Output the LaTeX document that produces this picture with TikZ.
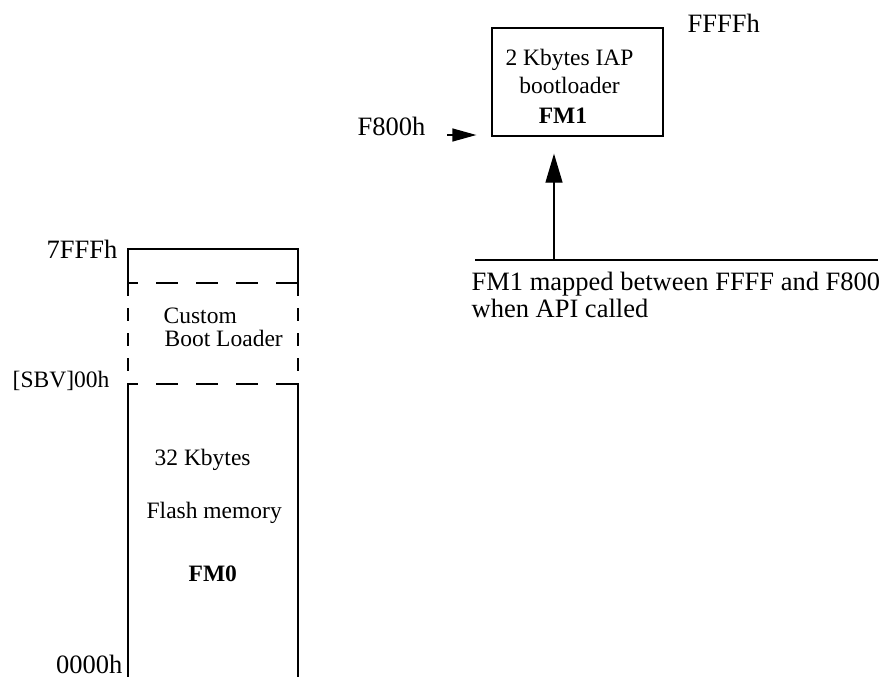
\documentclass[tikz,border=0pt]{standalone}
\usepackage{fontspec}
\setmainfont{Liberation Serif}
\usetikzlibrary{arrows.meta}
\begin{document}
\begin{tikzpicture}[x=1pt,y=-1pt, line width=1.3pt,
 lbl/.style={inner sep=0pt, font=\fontsize{26.5}{30}\selectfont},
 inl/.style={inner sep=0pt, font=\fontsize{23.5}{27}\selectfont},
 hdsh/.style={dash pattern=on 22pt off 18pt, dash phase=12pt},
 vdsh/.style={dash pattern=on 13pt off 12pt},
 bigtip/.style={-{Triangle[length=29pt,width=17pt]}},
 smalltip/.style={-{Triangle[length=24pt,width=13pt]}}]
\useasboundingbox (0,0) rectangle (885,677);

% memory column FM0
\coordinate (mbl) at (128,677);
\coordinate (mbr) at (298,677);
\coordinate (mtl) at (128,249);
\coordinate (mtr) at (298,249);
\coordinate (dtl) at (128,283);
\coordinate (dtr) at (298,283);
\coordinate (dbl) at (128,384);
\coordinate (dbr) at (298,384);
\draw (dtl) -- (mtl) -- (mtr) -- (dtr);
\draw (dbl) -- (mbl);
\draw (dbr) -- (mbr);
\draw[hdsh] (dtl) -- (dtr);
\draw[hdsh] (dbl) -- (dbr);
\draw[vdsh] (dtl) -- (dbl);
\draw[vdsh] (dtr) -- (dbr);

\node[lbl, anchor=base east] (l7fff) at (118,258) {7FFFh};
\node[inl, anchor=base east] (lsbv) at (110,387) {[SBV]00h};
\node[lbl, anchor=base east] (l0000) at (123,673) {0000h};
\node[inl, anchor=base west] (custom) at (163,323) {Custom};
\node[inl, anchor=base west] (bootl) at (164,346) {Boot Loader};
\node[inl, anchor=base west] (k32) at (154,465) {32 Kbytes};
\node[inl, anchor=base west] (flash) at (146,518) {Flash memory};
\node[inl, anchor=base west, font=\fontsize{23.5}{27}\selectfont\bfseries] (fm0) at (188,581) {FM0};

% FM1 box
\node[draw, minimum width=171pt, minimum height=108pt, inner sep=0pt] (fm1box) at (577.5,82) {};
\node[inl, anchor=base] (kb2) at (569.5,66) {2 Kbytes IAP};
\node[inl, anchor=base] (bootld) at (569.5,93) {bootloader};
\node[inl, anchor=base, font=\fontsize{23.5}{27}\selectfont\bfseries] (fm1) at (563,123) {FM1};
\node[lbl, anchor=base west] (lffff) at (687,33) {FFFFh};
\node[lbl, anchor=base west] (lf800) at (357,135) {F800h};
\draw[smalltip, shorten <=21pt, shorten >=15pt] (lf800.east |- 0,135) -- (fm1box.west |- 0,135);

% mapping line
\coordinate (mapl) at (475,260);
\coordinate (mapr) at (878,260);
\coordinate (apibase) at (554,260);
\draw (mapl) -- (mapr);
\draw[bigtip, shorten >=17pt] (apibase) -- (apibase |- fm1box.south);
\node[lbl, anchor=base west] (map1) at (471,290) {FM1 mapped between FFFF and F800};
\node[lbl, anchor=base west] (map2) at (471,317) {when API called};
\end{tikzpicture}
\end{document}
